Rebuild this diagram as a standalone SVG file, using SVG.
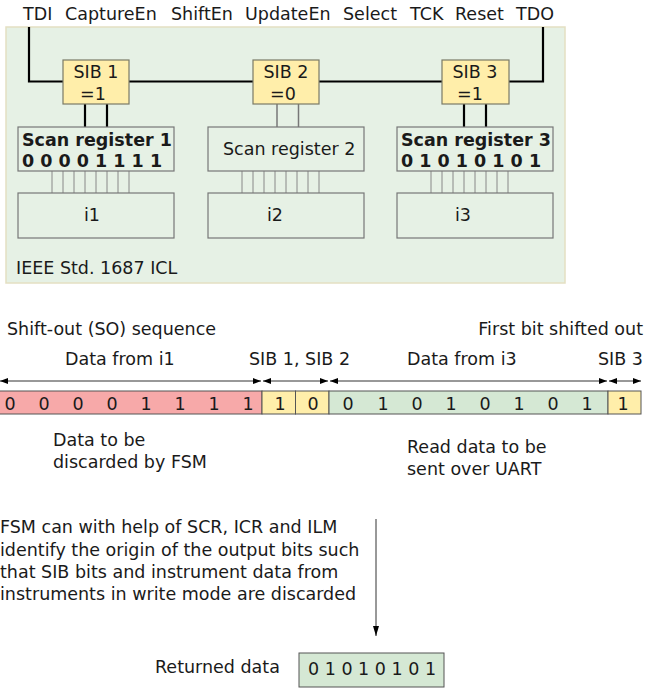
<svg xmlns="http://www.w3.org/2000/svg" width="647" height="691" viewBox="0 0 647 691">
  <defs>
    <style>
      text { font-family: "DejaVu Sans", "Liberation Sans", sans-serif; font-size: 17.5px; fill: #1a1a1a; }
      .b { font-weight: bold; }
      .mid { text-anchor: middle; }
      .end { text-anchor: end; }
      .icl { fill: #e6f1e5; stroke: #e4dfc2; stroke-width: 1.5; }
      .sib { fill: #ffeeaa; stroke: #7a7a66; stroke-width: 1.2; }
      .box { fill: none; stroke: #777; stroke-width: 1.2; }
      .bus { stroke: #000; stroke-width: 2.2; fill: none; }
      .dim { stroke: #777; stroke-width: 1.5; }
      .wire { stroke: #888; stroke-width: 1; }
      .cell { stroke: #555; stroke-width: 1; }
      .red { fill: #f7a9a9; }
      .yel { fill: #ffeeaa; }
      .grn { fill: #d5e8d4; }
      .arr { stroke: #333; stroke-width: 1; fill: none; marker-start: url(#ah); marker-end: url(#ah); }
    </style>
    <marker id="ah" viewBox="0 0 8 6" refX="8" refY="3" markerWidth="8" markerHeight="6" orient="auto-start-reverse" markerUnits="userSpaceOnUse">
      <path d="M0,0 L8,3 L0,6 z" fill="#000"/>
    </marker>
    <marker id="ahv" viewBox="0 0 10 6" refX="10" refY="3" markerWidth="10" markerHeight="6" orient="auto" markerUnits="userSpaceOnUse">
      <path d="M0,0 L10,3 L0,6 z" fill="#000"/>
    </marker>
  </defs>

  <!-- JTAG port signal names -->
  <g id="ports">
    <text x="23" y="20">TDI</text>
    <text x="65" y="20">CaptureEn</text>
    <text x="171" y="20">ShiftEn</text>
    <text x="245" y="20">UpdateEn</text>
    <text x="343" y="20">Select</text>
    <text x="410" y="20">TCK</text>
    <text x="455" y="20">Reset</text>
    <text x="516" y="20">TDO</text>
  </g>

  <!-- ICL network frame -->
  <g id="icl">
    <rect class="icl" x="6" y="27" width="559" height="256"/>
    <text x="16" y="274">IEEE Std. 1687 ICL</text>
  </g>

  <!-- scan path, SIB selects and register/instrument wiring -->
  <g id="connectors">
    <polyline class="bus" points="29,27 29,81.5 63,81.5"/>
    <line class="bus" x1="129" y1="81.5" x2="253" y2="81.5"/>
    <line class="bus" x1="319" y1="81.5" x2="442" y2="81.5"/>
    <polyline class="bus" points="509,81.5 543,81.5 543,27"/>

    <line class="bus" x1="85" y1="104" x2="85" y2="127"/>
    <line class="bus" x1="107" y1="104" x2="107" y2="127"/>
    <line class="dim" x1="277" y1="104" x2="277" y2="127"/>
    <line class="dim" x1="298.5" y1="104" x2="298.5" y2="127"/>
    <line class="bus" x1="464" y1="104" x2="464" y2="127"/>
    <line class="bus" x1="486" y1="104" x2="486" y2="127"/>

    <g class="wire">
      <line x1="52" y1="171" x2="52" y2="193"/><line x1="63" y1="171" x2="63" y2="193"/>
      <line x1="74" y1="171" x2="74" y2="193"/><line x1="85" y1="171" x2="85" y2="193"/>
      <line x1="96" y1="171" x2="96" y2="193"/><line x1="107" y1="171" x2="107" y2="193"/>
      <line x1="118" y1="171" x2="118" y2="193"/><line x1="129" y1="171" x2="129" y2="193"/>

      <line x1="242" y1="171" x2="242" y2="193"/><line x1="253" y1="171" x2="253" y2="193"/>
      <line x1="264" y1="171" x2="264" y2="193"/><line x1="275" y1="171" x2="275" y2="193"/>
      <line x1="286" y1="171" x2="286" y2="193"/><line x1="297" y1="171" x2="297" y2="193"/>
      <line x1="308" y1="171" x2="308" y2="193"/><line x1="319" y1="171" x2="319" y2="193"/>

      <line x1="431" y1="171" x2="431" y2="193"/><line x1="442" y1="171" x2="442" y2="193"/>
      <line x1="453" y1="171" x2="453" y2="193"/><line x1="464" y1="171" x2="464" y2="193"/>
      <line x1="475" y1="171" x2="475" y2="193"/><line x1="486" y1="171" x2="486" y2="193"/>
      <line x1="497" y1="171" x2="497" y2="193"/><line x1="508" y1="171" x2="508" y2="193"/>
    </g>

    <!-- spans over the shift-out sequence -->
    <line class="arr" x1="0" y1="381" x2="261" y2="381"/>
    <line class="arr" x1="263" y1="381" x2="328" y2="381"/>
    <line class="arr" x1="330" y1="381" x2="607" y2="381"/>
    <line class="arr" x1="609" y1="381" x2="641" y2="381"/>

    <line x1="376" y1="519" x2="376" y2="636" stroke="#333" stroke-width="1" marker-end="url(#ahv)"/>
  </g>

  <!-- segment insertion bits -->
  <g id="sib1">
    <rect class="sib" x="63" y="60" width="66" height="44"/>
    <text class="mid" x="96" y="78">SIB 1</text>
    <text class="mid" x="93" y="100">=1</text>
  </g>
  <g id="sib2">
    <rect class="sib" x="253" y="60" width="66" height="44"/>
    <text class="mid" x="286" y="78">SIB 2</text>
    <text class="mid" x="283" y="100">=0</text>
  </g>
  <g id="sib3">
    <rect class="sib" x="442" y="60" width="67" height="44"/>
    <text class="mid" x="475" y="78">SIB 3</text>
    <text class="mid" x="470" y="100">=1</text>
  </g>

  <!-- scan registers -->
  <g id="sr1">
    <rect class="box" x="18" y="127" width="156" height="44"/>
    <text class="b" x="22" y="146">Scan register 1</text>
    <text class="b" x="22" y="167">0 0 0 0 1 1 1 1</text>
  </g>
  <g id="sr2">
    <rect class="box" x="208" y="127" width="156" height="44"/>
    <text x="223" y="155">Scan register 2</text>
  </g>
  <g id="sr3">
    <rect class="box" x="397" y="127" width="156" height="44"/>
    <text class="b" x="401" y="146">Scan register 3</text>
    <text class="b" x="401" y="167">0 1 0 1 0 1 0 1</text>
  </g>

  <!-- instruments -->
  <g id="i1">
    <rect class="box" x="18" y="193" width="156" height="45"/>
    <text class="mid" x="92" y="221">i1</text>
  </g>
  <g id="i2">
    <rect class="box" x="208" y="193" width="156" height="45"/>
    <text class="mid" x="275" y="221">i2</text>
  </g>
  <g id="i3">
    <rect class="box" x="397" y="193" width="156" height="45"/>
    <text class="mid" x="463" y="221">i3</text>
  </g>

  <!-- shift-out sequence -->
  <g id="so-labels">
    <text x="7" y="335">Shift-out (SO) sequence</text>
    <text class="end" x="643" y="335">First bit shifted out</text>
    <text x="65" y="365">Data from i1</text>
    <text x="249" y="365">SIB 1, SIB 2</text>
    <text x="407" y="365">Data from i3</text>
    <text class="end" x="643" y="365">SIB 3</text>
  </g>

  <g id="so-bits">
    <rect class="cell red" x="-8" y="391" width="270" height="23"/>
    <rect class="cell yel" x="262" y="391" width="33.5" height="23"/>
    <rect class="cell yel" x="295.5" y="391" width="33.5" height="23"/>
    <rect class="cell grn" x="329" y="391" width="279" height="23"/>
    <rect class="cell yel" x="608" y="391" width="33" height="23"/>
    <g class="mid">
      <text x="10" y="410">0</text><text x="44" y="410">0</text>
      <text x="78" y="410">0</text><text x="112" y="410">0</text>
      <text x="146" y="410">1</text><text x="180" y="410">1</text>
      <text x="214" y="410">1</text><text x="248" y="410">1</text>
      <text x="280" y="410">1</text><text x="313" y="410">0</text>
      <text x="348" y="410">0</text><text x="383" y="410">1</text>
      <text x="417" y="410">0</text><text x="451" y="410">1</text>
      <text x="485" y="410">0</text><text x="519" y="410">1</text>
      <text x="553" y="410">0</text><text x="587" y="410">1</text>
      <text x="623" y="410">1</text>
    </g>
  </g>

  <g id="notes">
    <text x="53" y="446">Data to be</text>
    <text x="53" y="468">discarded by FSM</text>
    <text x="407" y="453">Read data to be</text>
    <text x="407" y="475">sent over UART</text>
    <text x="0" y="533">FSM can with help of SCR, ICR and ILM</text>
    <text x="0" y="555.5">identify the origin of the output bits such</text>
    <text x="0" y="578">that SIB bits and instrument data from</text>
    <text x="0" y="600">instruments in write mode are discarded</text>
  </g>

  <!-- returned data -->
  <g id="returned">
    <text x="155" y="673">Returned data</text>
    <rect class="cell grn" x="299" y="653" width="145" height="34" stroke="#666"/>
    <text x="308" y="675">0 1 0 1 0 1 0 1</text>
  </g>
</svg>
